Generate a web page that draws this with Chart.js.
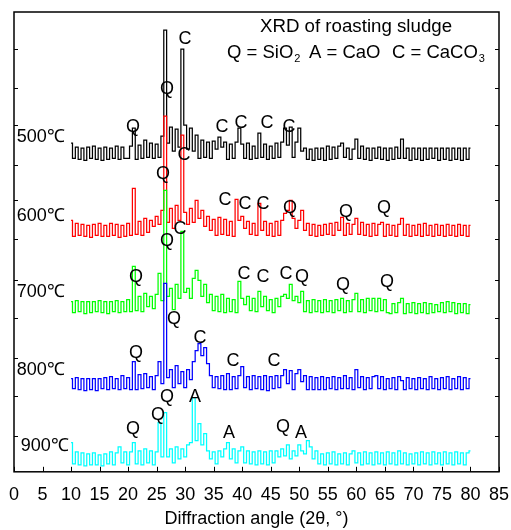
<!DOCTYPE html>
<html>
<head>
<meta charset="utf-8">
<title>XRD of roasting sludge</title>
<script src="https://cdn.jsdelivr.net/npm/chart.js@4.4.0/dist/chart.umd.min.js"></script>
<style>
  html, body { margin: 0; padding: 0; background: #fff; }
</style>
</head>
<body>
<canvas id="xrd" width="511" height="530"></canvas>
<script>
// scan grid: 10 to 80 deg, 0.5 deg steps
const angleStart = 10;
const angleStep = 0.5;

const temps = ["500℃", "600℃", "700℃", "800℃", "900℃"];
// vertical shift of each pattern (stacked plot)
const offsets = [318, 241, 165, 88, 13];

// intensities (arbitrary units), 141 points each
const i500 = [
  10, -5, 6, -6, 5, -7, 6, -5, 7, -6, 5, -7, 6, -6, 5, -5, 7, -6, 6, -5,
  -5, 7, 25, -6, 8, -5, 13, -4, 10, -5, 9, -4, 17, 123, 10, 26, 2, 24, 6, 104,
  28, 4, 25, 2, 18, -5, 13, -4, 11, -5, 12, 4, 16, 6, 11, -6, 9, -5, 11, 25,
  9, -5, 10, -6, 7, -5, 20, -4, 9, -6, 7, -5, 10, -4, 11, 25, 8, 26, -4, 11,
  25, 2, 5, -6, 4, -7, 5, -6, 5, -7, 7, -6, 6, -5, 7, 10, -4, 5, -6, 4,
  14, -5, 7, -6, 5, -7, 5, -5, 6, -6, 5, -7, 5, -6, 6, -5, 14, -5, 5, -7,
  5, -6, 5, -7, 5, -6, 5, -5, 5, -7, 5, -6, 5, -7, 5, -6, 5, -7, 5, -6, 5
];
const i600 = [
  10, -6, 7, -5, 6, -6, 5, -7, 6, -5, 7, -6, 5, -6, 7, -5, 6, -7, 5, -6,
  7, -5, 42, -4, 9, -5, 12, -2, 10, 4, 14, 6, 20, 114, 8, 22, 2, 25, 10, 95,
  18, 6, 22, 8, 30, 12, 20, 4, 14, 0, 11, -5, 13, -4, 11, -5, 9, -6, 31, 10,
  14, 2, 9, -4, 7, -5, 27, 0, 9, -5, 7, -6, 9, -5, 10, 17, 20, 30, 12, 2,
  10, 20, 0, 7, -5, 6, -6, 5, -5, 6, -4, 7, -5, 8, 0, 13, -5, 7, -4, 6,
  12, -4, 8, -5, 6, -6, 7, -5, 6, 8, -6, 6, -5, 5, -6, 6, 12, -5, 6, -6,
  5, -5, 6, -6, 7, -5, 5, -6, 6, -5, 5, -6, 6, -5, 5, -6, 6, -5, 5, -6, 5
];
const i700 = [
  5, -6, 6, -5, 5, -7, 5, -6, 5, -5, 6, -6, 5, -7, 5, -5, 6, -6, 5, -5,
  7, -5, 40, -4, 10, -5, 13, 0, 10, -2, 12, 33, 6, 116, 10, 18, -3, 22, 8, 75,
  14, 18, 8, 28, 36, 26, 10, 22, 4, 12, -4, 10, -5, 12, -6, 8, -5, 7, -6, 25,
  8, 2, 10, -4, 8, -5, 15, 0, 10, -4, 7, -6, 8, 0, 10, 12, 8, 22, 6, 10,
  4, 15, -5, 6, -6, 7, -5, 6, -6, 7, -5, 6, -6, 7, -4, 8, -6, 6, -5, 7,
  13, -5, 7, -6, 8, -4, 8, -5, 8, -4, 7, -6, -7, 3, -6, 4, 8, -7, 3, -6,
  4, -7, 3, -6, 4, -7, 3, -6, 2, -5, 4, -6, 5, -5, 4, -7, 3, -6, 3, -7, 2
];
const i800 = [
  5, -5, 6, -6, 5, -7, 5, -6, 5, -7, 5, -5, 6, -6, 7, -5, 5, -6, 8, -5,
  6, -6, 22, -6, 9, -5, 10, -4, 7, -6, 8, 22, 0, 100, 6, 14, -4, 18, 0, 12,
  -4, 14, 4, 22, 33, 40, 28, 36, 20, 8, -4, 7, -5, 8, -6, 10, -6, 7, -5, 8,
  17, -4, 7, -6, 8, -5, 7, -6, 8, -7, 7, -5, 8, -4, 8, 14, 0, 13, -6, 10,
  14, 2, 8, -6, 7, -6, 6, -6, 7, -6, 6, -5, 7, -6, 6, -5, 8, -5, 6, -6,
  14, -4, 7, -6, 6, -5, 7, 8, -5, 7, -6, 5, -5, 6, -6, 7, 3, -6, 6, -5,
  5, -6, 6, -5, 5, -6, 7, -5, 5, -6, 6, -5, 7, -6, 5, -5, 7, -6, 6, -5, 5
];
const i900 = [
  16, -5, 7, -6, 6, -7, 5, -6, 6, -6, 4, -7, 5, -5, 7, -6, 6, 12, -4, 7,
  -6, 7, 16, -5, 8, -6, 10, -4, 8, -6, 7, 36, 2, 46, 2, 10, -4, 12, 0, 10,
  2, 14, 16, 61, 18, 35, 14, 25, 8, 0, 7, -5, 8, 2, 10, 16, 0, 10, -4, 8,
  12, -4, 8, -5, 7, -6, 8, -5, 7, -6, 8, -4, 8, 2, 10, 3, 14, 0, 8, 3,
  14, 8, 5, 18, 12, 0, 8, -5, 5, -6, 6, -5, 7, -6, 5, -5, 6, -6, 5, 8,
  -4, 6, -6, 7, -5, 6, -6, 7, -5, 6, -6, 7, -5, 6, -6, 8, -5, 6, -6, 5,
  -5, 6, -6, 7, -5, 6, -6, 7, -5, 6, -6, 7, -5, 6, -6, 7, -5, 6, -6, 6, 8
];

// peak markers: [angle, level, text]
const peakLabels = [
  [29.97, 432, "C"], [26.81, 382, "Q"], [20.86, 344, "Q"], [36.45, 344, "C"],
  [39.78, 348, "C"], [44.34, 348, "C"], [48.2, 344, "C"],
  [29.79, 316, "C"], [26.11, 297, "Q"], [36.98, 271, "C"], [40.48, 267, "C"],
  [43.64, 267, "C"], [48.37, 263, "Q"], [58.18, 259, "Q"], [64.84, 263, "Q"],
  [29.09, 242, "C"], [26.81, 230, "Q"], [21.38, 194, "Q"], [40.31, 197, "C"],
  [43.64, 194, "C"], [47.67, 197, "C"], [50.47, 194, "Q"], [57.66, 186, "Q"],
  [65.37, 189, "Q"],
  [28.04, 153, "Q"], [32.6, 134, "C"], [21.38, 119, "Q"], [38.38, 111, "C"],
  [45.57, 111, "C"],
  [26.81, 75, "Q"], [31.72, 75, "A"], [25.24, 57, "Q"], [20.86, 43, "Q"],
  [37.68, 39, "A"], [47.14, 45, "Q"], [50.3, 39, "A"]
];
const tempLabelPos = [[0.5, 334], [0.5, 255], [0.5, 179], [0.5, 102], [1.2, 26]];
const yTickValues = [36, 76, 114, 154, 191, 232, 271, 306, 346, 383, 422];

const colors = ["#000000", "#ff0000", "#00ff00", "#0000ff", "#00ffff"];
const series = [i500, i600, i700, i800, i900];
const FONT = "'Liberation Sans', Arial, Helvetica, sans-serif";

const datasets = series.map((vals, k) => ({
  label: temps[k],
  data: vals.map((v, i) => ({ x: angleStart + angleStep * i, y: v + offsets[k] })),
  borderColor: colors[k],
  borderWidth: 1.25,
  pointRadius: 0,
  stepped: "middle",
  fill: false,
  order: series.length - k
}));

const decor = {
  id: "decor",
  afterDatasetsDraw(chart) {
    const ctx = chart.ctx;
    const xs = chart.scales.x, ys = chart.scales.y;
    const px = v => xs.getPixelForValue(v);
    const py = v => ys.getPixelForValue(v);
    ctx.save();
    ctx.fillStyle = "#000";
    ctx.font = "18px " + FONT;
    ctx.textBaseline = "middle";

    ctx.textAlign = "center";
    peakLabels.forEach(p => ctx.fillText(p[2], px(p[0]), py(p[1])));

    ctx.textAlign = "left";
    temps.forEach((t, k) => ctx.fillText(t, px(tempLabelPos[k][0]), py(tempLabelPos[k][1])));

    ctx.font = "18.7px " + FONT;
    ctx.fillText("XRD of roasting sludge", px(43.1), py(444));

    // legend line with subscripts
    const ly = py(418);
    const sub = (txt, x) => {
      ctx.font = "11px " + FONT;
      ctx.fillText(txt, x, ly + 6);
      ctx.font = "18.5px " + FONT;
    };
    ctx.font = "18.5px " + FONT;
    let x = px(37.33);
    ctx.fillText("Q = SiO", x, ly);
    sub("2", x + ctx.measureText("Q = SiO").width + 1);
    ctx.fillText("A = CaO", px(51.7), ly);
    x = px(66.25);
    ctx.fillText("C = CaCO", x, ly);
    sub("3", x + ctx.measureText("C = CaCO").width + 1);
    ctx.restore();
  },
  afterDraw(chart) {
    const ctx = chart.ctx;
    const { left, right, top, bottom } = chart.chartArea;
    const ys = chart.scales.y;
    ctx.save();
    ctx.strokeStyle = "#000";
    ctx.lineWidth = 1.5;
    ctx.strokeRect(left, top, right - left, bottom - top);
    ctx.lineWidth = 1;
    ctx.beginPath();
    chart.scales.x.ticks.forEach(t => {
      const xx = Math.round(chart.scales.x.getPixelForValue(t.value)) + 0.5;
      ctx.moveTo(xx, bottom);
      ctx.lineTo(xx, bottom - 5);
    });
    yTickValues.forEach(v => {
      const yy = Math.round(ys.getPixelForValue(v)) + 0.5;
      ctx.moveTo(left, yy);
      ctx.lineTo(left + 4, yy);
      ctx.moveTo(right, yy);
      ctx.lineTo(right - 4, yy);
    });
    ctx.stroke();
    ctx.restore();
  }
};

new Chart(document.getElementById("xrd"), {
  type: "line",
  data: { datasets: datasets },
  options: {
    responsive: false,
    animation: false,
    layout: { padding: { left: 14, right: 12, top: 12, bottom: 0 } },
    plugins: { legend: { display: false }, tooltip: { enabled: false } },
    scales: {
      x: {
        type: "linear",
        min: 0,
        max: 85,
        afterFit(scale) {
          scale.paddingLeft = 0;
          scale.paddingRight = 0;
        },
        ticks: { stepSize: 5, color: "#000", font: { size: 18, family: FONT }, padding: 12, maxRotation: 0 },
        grid: { display: false, drawTicks: false },
        border: { display: false },
        title: {
          display: true,
          text: "Diffraction angle (2θ, °)",
          color: "#000",
          font: { size: 18, family: FONT },
          padding: { top: -9, bottom: 0 }
        }
      },
      y: { display: false, min: 0, max: 459 }
    }
  },
  plugins: [decor]
});
</script>
</body>
</html>
